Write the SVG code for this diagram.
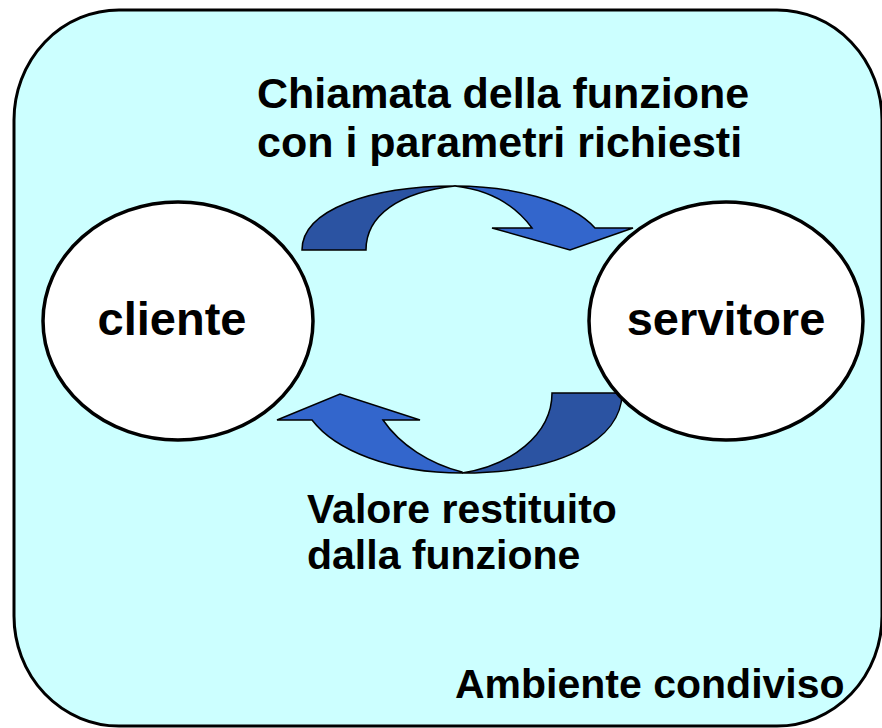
<svg xmlns="http://www.w3.org/2000/svg" width="882" height="728" viewBox="0 0 882 728">
<style>
.env{fill:#CCFFFF;stroke:#000;stroke-width:3}
.node{fill:#FFFFFF;stroke:#000;stroke-width:3.5}
.lbl{font-family:"Liberation Sans",Arial,sans-serif;font-weight:bold;fill:#000}
.dark{fill:#2B53A2;stroke:#000;stroke-width:1.5;stroke-linejoin:miter}
.light{fill:#3366CC;stroke:#000;stroke-width:1.5;stroke-linejoin:miter}
</style>
<rect x="0" y="0" width="882" height="728" fill="#FFFFFF"/>
<g id="ambiente">
<rect class="env" x="14" y="10" width="868" height="716" rx="105" ry="110"/>
<text class="lbl" x="455" y="698" font-size="41">Ambiente condiviso</text>
</g>
<g id="connectors">
<g id="chiamata">
<path class="dark" d="M302,250 C302,210 370,186 455,186 C400,192 366,215 366,250 Z"/>
<path class="light" d="M455,186 C510,186 570,200 595,228 L633,228 L570,250 L492,228 L532,228 C515,205 490,190 455,186 Z"/>
</g>
<g id="valore">
<path class="dark" d="M622,393 C622,440 560,473 462,473 C510,466 552,435 552,393 Z"/>
<path class="light" d="M462,473 C390,473 335,450 312,420 L277,420 L340,394 L420,420 L383,420 C400,445 430,464 462,472 Z"/>
</g>
</g>
<g id="label-chiamata">
<text class="lbl" x="257" y="108" font-size="43">Chiamata della funzione</text>
<text class="lbl" x="257" y="157" font-size="43">con i parametri richiesti</text>
</g>
<g id="label-valore">
<text class="lbl" x="307" y="523" font-size="41">Valore restituito</text>
<text class="lbl" x="307" y="569" font-size="41">dalla funzione</text>
</g>
<g id="cliente">
<ellipse class="node" cx="178" cy="321" rx="135" ry="119"/>
<text class="lbl" x="172" y="335" font-size="47" text-anchor="middle">cliente</text>
</g>
<g id="servitore">
<ellipse class="node" cx="726" cy="321" rx="137" ry="119"/>
<text class="lbl" x="726" y="335" font-size="47" text-anchor="middle">servitore</text>
</g>
</svg>
